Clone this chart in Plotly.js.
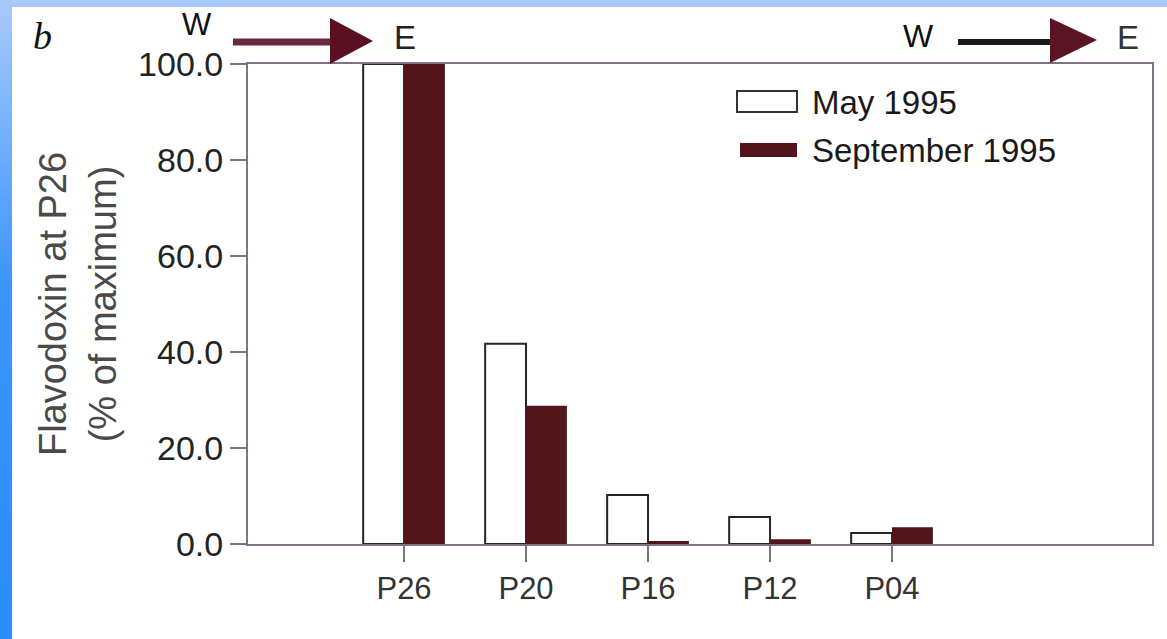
<!DOCTYPE html>
<html>
<head>
<meta charset="utf-8">
<script src="https://cdn.plot.ly/plotly-3.0.1.min.js"></script>
<style>
  html, body { margin: 0; padding: 0; width: 1167px; height: 639px; overflow: hidden; }
  body { background: linear-gradient(180deg, #aac9fa 0%, #7ab4fc 18%, #3a94ff 45%, #2a8cff 100%); position: relative; }
  #chart { position: absolute; left: 12px; top: 7px; width: 1155px; height: 632px; background: #fff; }
</style>
</head>
<body>
<div id="chart"></div>
<script>
// ---- data ----
const stations = ["P26", "P20", "P16", "P12", "P04"];
const may1995 = [100, 41.7, 10.2, 5.6, 2.3];
const sep1995 = [100, 28.8, 0.6, 1.0, 3.5];
const seriesNames = ["May 1995", "September 1995"];
const yTicks = [0, 20, 40, 60, 80, 100];

const FONT = '"Liberation Sans", Arial, Helvetica, sans-serif';
const AXC = '#7d7385';
const MAROON = '#52151c';

const traces = [
  { type: 'bar', name: seriesNames[0], x: stations, y: may1995,
    marker: { color: '#ffffff', line: { color: '#262626', width: 2 } }, showlegend: false },
  { type: 'bar', name: seriesNames[1], x: stations, y: sep1995,
    marker: { color: MAROON, line: { color: MAROON, width: 0 } }, showlegend: false }
];

// paper coordinate helpers (plot area = px 248..1152, 64..544)
const PX = X => (X - 248) / 904;
const PY = Y => (544 - Y) / 480;

const shapes = [
  // left arrow W -> E
  { type: 'line', xref: 'paper', yref: 'paper', x0: PX(233), x1: PX(333), y0: PY(42), y1: PY(42),
    line: { color: '#6b2a3a', width: 7 } },
  { type: 'path', xref: 'paper', yref: 'paper',
    path: `M ${PX(330)} ${PY(18)} L ${PX(330)} ${PY(64)} L ${PX(373)} ${PY(41)} Z`,
    fillcolor: '#5a1020', line: { width: 0 } },
  // right arrow W -> E
  { type: 'line', xref: 'paper', yref: 'paper', x0: PX(958), x1: PX(1052), y0: PY(42), y1: PY(42),
    line: { color: '#1a1a1a', width: 6 } },
  { type: 'path', xref: 'paper', yref: 'paper',
    path: `M ${PX(1050)} ${PY(18)} L ${PX(1050)} ${PY(63)} L ${PX(1097)} ${PY(40)} Z`,
    fillcolor: '#5a1525', line: { width: 0 } },
  // legend swatches
  { type: 'rect', xref: 'paper', yref: 'paper', x0: PX(737), x1: PX(797), y0: PY(112), y1: PY(91),
    fillcolor: '#ffffff', line: { color: '#333333', width: 2 } },
  { type: 'rect', xref: 'paper', yref: 'paper', x0: PX(740), x1: PX(797), y0: PY(157), y1: PY(143),
    fillcolor: MAROON, line: { width: 0 } }
];

const annotations = [
  { text: '<i>b</i>', xref: 'paper', yref: 'paper', x: PX(42), y: PY(36), showarrow: false,
    font: { family: '"Liberation Serif", "DejaVu Serif", serif', size: 38, color: '#111' },
    xanchor: 'center', yanchor: 'middle' },
  { text: 'W', xref: 'paper', yref: 'paper', x: PX(197), y: PY(25), showarrow: false,
    font: { family: FONT, size: 31, color: '#111' }, xanchor: 'center', yanchor: 'middle' },
  { text: 'E', xref: 'paper', yref: 'paper', x: PX(405), y: PY(37), showarrow: false,
    font: { family: FONT, size: 33, color: '#222' }, xanchor: 'center', yanchor: 'middle' },
  { text: 'W', xref: 'paper', yref: 'paper', x: PX(918), y: PY(36), showarrow: false,
    font: { family: FONT, size: 32, color: '#111' }, xanchor: 'center', yanchor: 'middle' },
  { text: 'E', xref: 'paper', yref: 'paper', x: PX(1128), y: PY(38), showarrow: false,
    font: { family: FONT, size: 33, color: '#333' }, xanchor: 'center', yanchor: 'middle' },
  { text: seriesNames[0], xref: 'paper', yref: 'paper', x: PX(810), y: PY(102), showarrow: false,
    font: { family: FONT, size: 33, color: '#1a1a1a' }, xanchor: 'left', yanchor: 'middle' },
  { text: seriesNames[1], xref: 'paper', yref: 'paper', x: PX(810), y: PY(150), showarrow: false,
    font: { family: FONT, size: 33, color: '#1a1a1a' }, xanchor: 'left', yanchor: 'middle' }
];

const layout = {
  width: 1155, height: 632,
  margin: { l: 236, r: 15, t: 57, b: 95 },
  paper_bgcolor: '#ffffff', plot_bgcolor: '#ffffff',
  barmode: 'group', bargap: 0.33, bargroupgap: 0,
  font: { family: FONT },
  xaxis: {
    type: 'category', range: [-1.279, 6.131],
    showgrid: false, zeroline: false,
    showline: true, linecolor: AXC, linewidth: 2, mirror: true,
    ticks: 'outside', ticklen: 16, tickwidth: 2, tickcolor: AXC,
    tickfont: { family: FONT, size: 31, color: '#333' }
  },
  yaxis: {
    range: [0, 100], tickvals: yTicks, tickformat: '.1f',
    showgrid: false, zeroline: false,
    showline: true, linecolor: AXC, linewidth: 2, mirror: true,
    ticks: 'outside', ticklen: 16, tickwidth: 2, tickcolor: AXC,
    tickfont: { family: FONT, size: 34, color: '#222' },
    title: { text: 'Flavodoxin at P26<br>(% of maximum)', standoff: 10,
             font: { family: FONT, size: 38, color: '#4a4a4a' } }
  },
  shapes: shapes,
  annotations: annotations,
  showlegend: false
};

Plotly.newPlot('chart', traces, layout, { displayModeBar: false, staticPlot: true });
</script>
</body>
</html>
